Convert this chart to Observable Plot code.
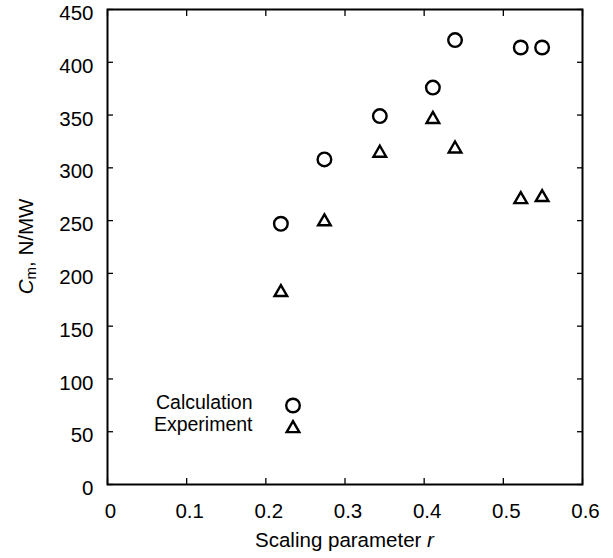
<!DOCTYPE html>
<html>
<head>
<meta charset="utf-8">
<script src="https://cdn.jsdelivr.net/npm/d3@7"></script>
<script src="https://cdn.jsdelivr.net/npm/@observablehq/plot@0.6"></script>
<style>
  html, body { margin: 0; padding: 0; background: #fff; }
</style>
</head>
<body>
<div id="chart"></div>
<script>
// ---- Data ----
const rValues     = [0.219, 0.274, 0.344, 0.411, 0.439, 0.522, 0.549];
const calculation = [247, 308, 349, 376, 421, 414, 414];
const experiment  = [182, 249, 314, 346, 318, 270, 272];

const xTicks = [0, 0.1, 0.2, 0.3, 0.4, 0.5, 0.6];
const yTicks = [0, 50, 100, 150, 200, 250, 300, 350, 400, 450];

const legendLabels  = ["Calculation", "Experiment"];
const legendSymbols = ["circle", "triangle"];

// ---- Layout / style ----
const W = 613, H = 558;
const mL = 107, mR = 31, mT = 9, mB = 74;
const font = "'Liberation Sans', Arial, Helvetica, sans-serif";
const fs = 20.5, legendFs = 19.5;
const circleR = 6.8, triR = 4.7, symStroke = 2.4;

const points = rValues.map((r, i) => ({r, calc: calculation[i], exp: experiment[i]}));
const legend = legendLabels.map((label, i) => ({label, symbol: legendSymbols[i]}));
const legendMarkerDx = 185.5, legendTextDx = 145;
const legendMarkerDy = [-79, -56], legendTextDy = [-76, -54];

const fmtX = d => d === 0 ? "0" : d.toFixed(1);
const tick = {stroke: "#000", strokeWidth: 1.3, label: null, tickFormat: () => ""};

const symStyle = s => ({
  symbol: s, r: s === "circle" ? circleR : triR,
  fill: "none", stroke: "#000", strokeWidth: symStroke
});

const plot = Plot.plot({
  width: W, height: H,
  marginLeft: mL, marginRight: mR, marginTop: mT, marginBottom: mB,
  style: {fontFamily: font, fontSize: fs + "px", color: "#000", background: "#fff", overflow: "visible"},
  x: {domain: [0, 0.6], label: null},
  y: {domain: [0, 450], label: null},
  marks: [
    // inward ticks on all four sides
    Plot.axisX({...tick, ticks: xTicks, anchor: "bottom", tickSize: -6}),
    Plot.axisX({...tick, ticks: xTicks, anchor: "top", tickSize: -6}),
    Plot.axisY({...tick, ticks: yTicks, anchor: "left", tickSize: -6}),
    Plot.axisY({...tick, ticks: yTicks, anchor: "right", tickSize: -6}),
    // tick labels
    Plot.axisX({ticks: xTicks, anchor: "bottom", tickSize: 0, tickPadding: 19, dx: 3,
                tickFormat: fmtX, label: null, fontSize: fs}),
    Plot.axisY({ticks: yTicks, anchor: "left", tickSize: 0, tickPadding: 14, dy: 4,
                tickFormat: d => String(d), label: null, fontSize: fs}),
    Plot.frame({stroke: "#000", strokeWidth: 2}),
    // data
    Plot.dot(points, {x: "r", y: "calc", ...symStyle("circle")}),
    Plot.dot(points, {x: "r", y: "exp", ...symStyle("triangle")}),
    // legend inside the frame
    ...legend.flatMap((d, i) => [
      Plot.dot([d], {x: null, y: null, frameAnchor: "bottom-left",
                     dx: legendMarkerDx, dy: legendMarkerDy[i], ...symStyle(d.symbol)}),
      Plot.text([d], {x: null, y: null, frameAnchor: "bottom-left", text: "label",
                      textAnchor: "end", dx: legendTextDx, dy: legendTextDy[i],
                      fontSize: legendFs, fill: "#000"})
    ])
  ]
});

const svg = d3.select(plot);
// x-axis label with italic r
const xl = svg.append("text")
  .attr("x", mL + (W - mL - mR) / 2).attr("y", 547)
  .attr("text-anchor", "middle")
  .attr("font-family", font).attr("font-size", fs).attr("fill", "#000");
xl.append("tspan").text("Scaling parameter ");
xl.append("tspan").attr("font-style", "italic").text("r");

// y-axis label: C (italic) with subscript m
const yl = svg.append("text")
  .attr("transform", `translate(33, ${mT + (H - mT - mB) / 2}) rotate(-90)`)
  .attr("text-anchor", "middle")
  .attr("font-family", font).attr("font-size", fs).attr("fill", "#000");
yl.append("tspan").attr("font-style", "italic").text("C");
yl.append("tspan").attr("font-size", 15).attr("dy", 3).text("m");
yl.append("tspan").attr("dy", -3).text(", N/MW");

document.getElementById("chart").appendChild(plot);
</script>
</body>
</html>
